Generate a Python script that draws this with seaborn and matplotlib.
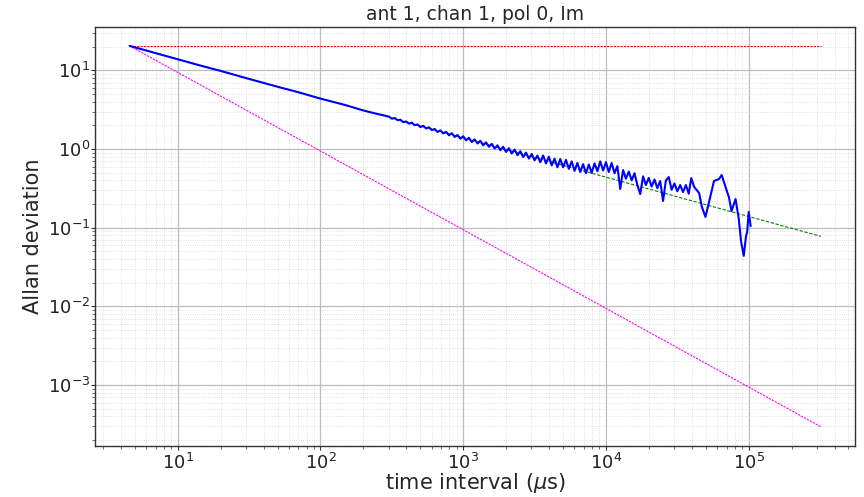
import matplotlib
matplotlib.use("Agg")
import matplotlib.pyplot as plt
import seaborn as sns
import pandas as pd

# ---- data ----
tau_us = [4.6, 6, 8, 10, 15, 20, 30, 50, 70, 100, 150, 200, 250,
          302, 316, 331, 347, 363, 380, 398, 417, 437, 457, 479, 501, 525,
          550, 575, 603, 631, 661, 692, 724, 759, 794, 832, 871, 912, 955,
          1000, 1047, 1096, 1148, 1202, 1259, 1318, 1380, 1445, 1514, 1585,
          1660, 1738, 1820, 1905, 1995, 2089, 2188, 2291, 2399, 2512, 2630,
          2754, 2884, 3020, 3162, 3311, 3467, 3631, 3802, 3981, 4169, 4365,
          4571, 4786, 5012, 5248, 5495, 5754, 6026, 6310, 6607, 6918, 7244,
          7586, 7943, 8318, 8710, 9120, 9550, 10000, 10470, 10960, 11480,
          12020, 12590, 13180, 13800, 14450, 15140, 15850, 16600, 17380,
          18200, 19050, 19950, 20890, 21880, 22910, 23990, 25120, 26300,
          27540, 28840, 30200, 31620, 33110, 34670, 36310, 38020,
          39600, 41504, 44960, 47000, 49800, 52749, 57143, 61904, 64700,
          69500, 72634, 75800, 80900, 85231, 88500, 92330, 95800, 97600,
          100000, 103250]
adev = [20.5, 17.9, 15.5, 13.85, 11.3, 9.85, 8.0, 6.2, 5.28, 4.38, 3.62, 3.09,
        2.80,
        2.589, 2.428, 2.484, 2.329, 2.361, 2.194, 2.245, 2.105, 2.164, 2.010,
        2.057, 1.902, 1.973, 1.825, 1.893, 1.743, 1.800, 1.649, 1.727, 1.582,
        1.657, 1.497, 1.589, 1.423, 1.511, 1.353, 1.456, 1.292, 1.391, 1.228,
        1.328, 1.178, 1.274, 1.115, 1.217, 1.070, 1.167, 1.017, 1.115, 0.967,
        1.070, 0.919, 1.026, 0.877, 0.985, 0.834, 0.940, 0.793, 0.902, 0.757,
        0.866, 0.720, 0.827, 0.681, 0.829, 0.658, 0.800, 0.621, 0.755, 0.587,
        0.747, 0.587, 0.730, 0.560, 0.697, 0.529, 0.666, 0.511, 0.643, 0.493,
        0.636, 0.499, 0.658, 0.523, 0.697, 0.535, 0.681, 0.511, 0.666, 0.493,
        0.607, 0.311, 0.541, 0.420, 0.517, 0.401, 0.493, 0.349, 0.268, 0.450,
        0.349, 0.430, 0.334, 0.410, 0.319, 0.392, 0.219, 0.401, 0.441, 0.304,
        0.366, 0.291, 0.349, 0.284, 0.349, 0.271,
        0.428, 0.330, 0.276, 0.184, 0.137, 0.213, 0.393, 0.416, 0.468,
        0.311, 0.246, 0.163, 0.232, 0.129, 0.066, 0.0439, 0.0787, 0.0885,
        0.159, 0.105]

ref_tau = [4.6, 3.2e5]
ref_flat = [20.5, 20.5]          # red dotted
ref_white = [20.5, 0.0777]       # green dashed (slope -1/2)
ref_flicker = [20.5, 0.000295]   # magenta dashed (slope -1)

title = "ant 1, chan 1, pol 0, Im"
xlabel = r"time interval ($\mu$s)"
ylabel = "Allan deviation"

# ---- plotting ----
sns.set_theme(style="ticks")
plt.rcParams["font.family"] = ["DejaVu Sans"]

fig = plt.figure(figsize=(8.64, 4.97), dpi=100)
ax = fig.add_axes([0.110, 0.103, 0.880, 0.843])

df = pd.DataFrame({"tau": tau_us, "adev": adev})
refs = pd.DataFrame({"tau": ref_tau, "flat": ref_flat,
                     "white": ref_white, "flicker": ref_flicker})

sns.lineplot(data=refs, x="tau", y="flat", ax=ax, color="red",
             linestyle=(0, (2, 1)), linewidth=0.8, estimator=None)
sns.lineplot(data=refs, x="tau", y="flicker", ax=ax, color="magenta",
             linestyle=(0, (2, 1)), linewidth=0.8, estimator=None)
sns.lineplot(data=refs, x="tau", y="white", ax=ax, color="green",
             linestyle=(0, (3, 1.5)), linewidth=0.8, estimator=None)
sns.lineplot(data=df, x="tau", y="adev", ax=ax, color="blue",
             linewidth=1.5, estimator=None, sort=False)

ax.set_xscale("log")
ax.set_yscale("log")
ax.margins(0.05)

ax.grid(True, which="major", color="#bdbdbd", linewidth=0.9, linestyle="-")
ax.grid(True, which="minor", color="#d9d9d9", linewidth=0.6, linestyle=":")
ax.set_axisbelow(True)

for s in ax.spines.values():
    s.set_color("#333333")
    s.set_linewidth(1.0)

ax.tick_params(axis="both", which="major", labelsize=13, length=3,
               width=0.8, colors="#333333", labelcolor="#222222")
ax.tick_params(axis="x", which="major", pad=2)
ax.tick_params(axis="y", which="major", pad=0.5)
ax.tick_params(axis="both", which="minor", length=2, width=0.6, colors="#555555")

ax.set_title(title, fontsize=13.5, pad=5)
ax.set_xlabel(xlabel, fontsize=15, labelpad=-1)
ax.set_ylabel(ylabel, fontsize=15, labelpad=3)

fig.savefig("out.png", dpi=100)
